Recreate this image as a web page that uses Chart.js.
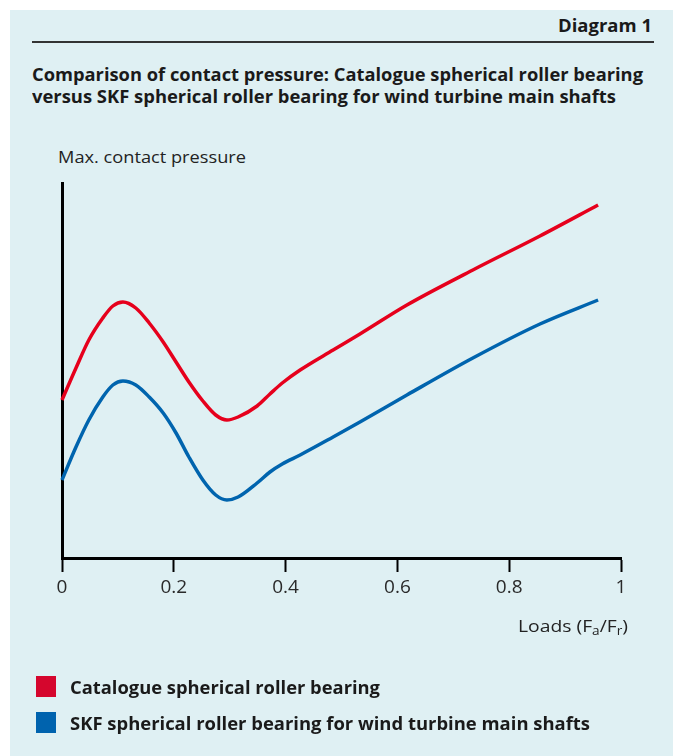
<!DOCTYPE html>
<html>
<head>
<meta charset="utf-8">
<script src="https://cdn.jsdelivr.net/npm/chart.js@4"></script>
<style>
  html, body { margin: 0; padding: 0; background: #ffffff; }
  #page { position: relative; width: 673px; height: 756px; overflow: hidden; background: #ffffff; }
  #panel { position: absolute; left: 10px; top: 10px; width: 663px; height: 746px; background: #dff0f3; }
  .t { position: absolute; white-space: nowrap; font-family: "Open Sans", "Noto Sans", sans-serif; color: #1a1a1a; transform-origin: 0 0; }
  #diag { font-weight: 700; font-size: 17px; line-height: 20px; top: 16px; left: 558px; }
  #rule { position: absolute; left: 32px; top: 41px; width: 622px; height: 2px; background: #333; }
  .title { font-weight: 700; font-size: 17.5px; line-height: 22px; left: 32px; }
  #yl { font-size: 17px; line-height: 20px; left: 58px; top: 147px; font-weight: 400; color: #222; }
  #xl { font-size: 17px; line-height: 20px; left: 518px; top: 616px; color: #222; }
  #xl sub { font-size: 12px; vertical-align: -3px; line-height: 0; }
  .sw { position: absolute; left: 36px; width: 20px; height: 21px; }
  .lg { font-weight: 700; font-size: 17.5px; line-height: 22px; left: 70px; }
  canvas { position: absolute; left: 0; top: 0; }
</style>
</head>
<body>
<div id="page">
  <div id="panel"></div>
  <div class="t" id="diag" data-w="94">Diagram 1</div>
  <div id="rule"></div>
  <div class="t title" id="t1" style="top:63px" data-w="611">Comparison of contact pressure: Catalogue spherical roller bearing</div>
  <div class="t title" id="t2" style="top:85px" data-w="584">versus SKF spherical roller bearing for wind turbine main shafts</div>
  <div class="t" id="yl" data-w="188">Max. contact pressure</div>
  <canvas id="c" width="673" height="756"></canvas>
  <div class="t" id="xl" data-w="110">Loads (F<sub>a</sub>/F<sub>r</sub>)</div>
  <div class="sw" style="top:676px;background:#d5062d"></div>
  <div class="t lg" id="l1" style="top:676px" data-w="310">Catalogue spherical roller bearing</div>
  <div class="sw" style="top:712px;background:#0063ae"></div>
  <div class="t lg" id="l2" style="top:712px" data-w="520">SKF spherical roller bearing for wind turbine main shafts</div>
</div>
<script>
// ---- data (y in arbitrary units, no y ticks shown) ----
const seriesNames = ["Catalogue spherical roller bearing", "SKF spherical roller bearing for wind turbine main shafts"];
const redLoads  = [0, 0.025, 0.048, 0.073, 0.091, 0.109, 0.132, 0.156, 0.181, 0.204, 0.227, 0.252, 0.275, 0.295, 0.315, 0.349, 0.372, 0.394, 0.426, 0.485, 0.533, 0.617, 0.735, 0.855, 0.959];
const redPress  = [158, 190, 218, 240, 252, 256, 250, 235, 216, 196, 176, 157, 143, 138, 141, 152, 164, 175, 188, 208, 224, 253, 288, 322, 353];
const blueLoads = [0, 0.025, 0.048, 0.073, 0.091, 0.109, 0.132, 0.156, 0.181, 0.204, 0.227, 0.252, 0.275, 0.295, 0.315, 0.349, 0.372, 0.394, 0.426, 0.485, 0.533, 0.617, 0.735, 0.855, 0.959];
const bluePress = [78, 111, 138, 161, 173, 177, 173, 161, 145, 125, 101, 78, 63, 58, 61, 75, 86, 94, 103, 121, 136, 163, 200, 234, 258];
const xTickValues = [0, 0.2, 0.4, 0.6, 0.8, 1];
const xTickLabels = ["0", "0.2", "0.4", "0.6", "0.8", "1"];

// fit text widths
document.querySelectorAll('.t[data-w]').forEach(el => {
  const w = el.getBoundingClientRect().width;
  const target = parseFloat(el.dataset.w);
  if (w > 0) el.style.transform = 'scaleX(' + (target / w) + ')';
});

const toXY = (xs, ys) => xs.map((x, i) => ({ x: x, y: ys[i] }));

new Chart(document.getElementById('c'), {
  type: 'line',
  data: {
    datasets: [
      { label: seriesNames[0], data: toXY(redLoads, redPress), borderColor: '#e6001c', borderWidth: 3.5, pointRadius: 0, cubicInterpolationMode: 'monotone', fill: false, clip: false },
      { label: seriesNames[1], data: toXY(blueLoads, bluePress), borderColor: '#0064ae', borderWidth: 3.5, pointRadius: 0, cubicInterpolationMode: 'monotone', fill: false, clip: false }
    ]
  },
  options: {
    responsive: false,
    animation: false,
    devicePixelRatio: 1,
    layout: { padding: { left: 62, right: 52, top: 183, bottom: 148 } },
    plugins: { legend: { display: false }, tooltip: { enabled: false } },
    scales: {
      x: {
        type: 'linear', min: 0, max: 1,
        afterBuildTicks: s => { s.ticks = xTickValues.map(v => ({ value: v })); },
        afterFit: s => { s.height = 50; },
        grid: { display: true, drawOnChartArea: false, drawTicks: true, tickLength: 14, tickWidth: 2, tickColor: '#000' },
        border: { display: true, color: '#000', width: 3 },
        ticks: {
          padding: 4, color: '#2a2a2a', maxRotation: 0,
          font: { family: '"Open Sans", "Noto Sans", sans-serif', size: 19, weight: '400' },
          callback: (v) => { const i = xTickValues.indexOf(v); return i >= 0 ? xTickLabels[i] : ''; }
        }
      },
      y: {
        min: 0, max: 375,
        afterFit: s => { s.width = 0; },
        grid: { display: false, drawTicks: false },
        border: { display: true, color: '#000', width: 3 },
        ticks: { display: false }
      }
    }
  }
});
</script>
</body>
</html>
